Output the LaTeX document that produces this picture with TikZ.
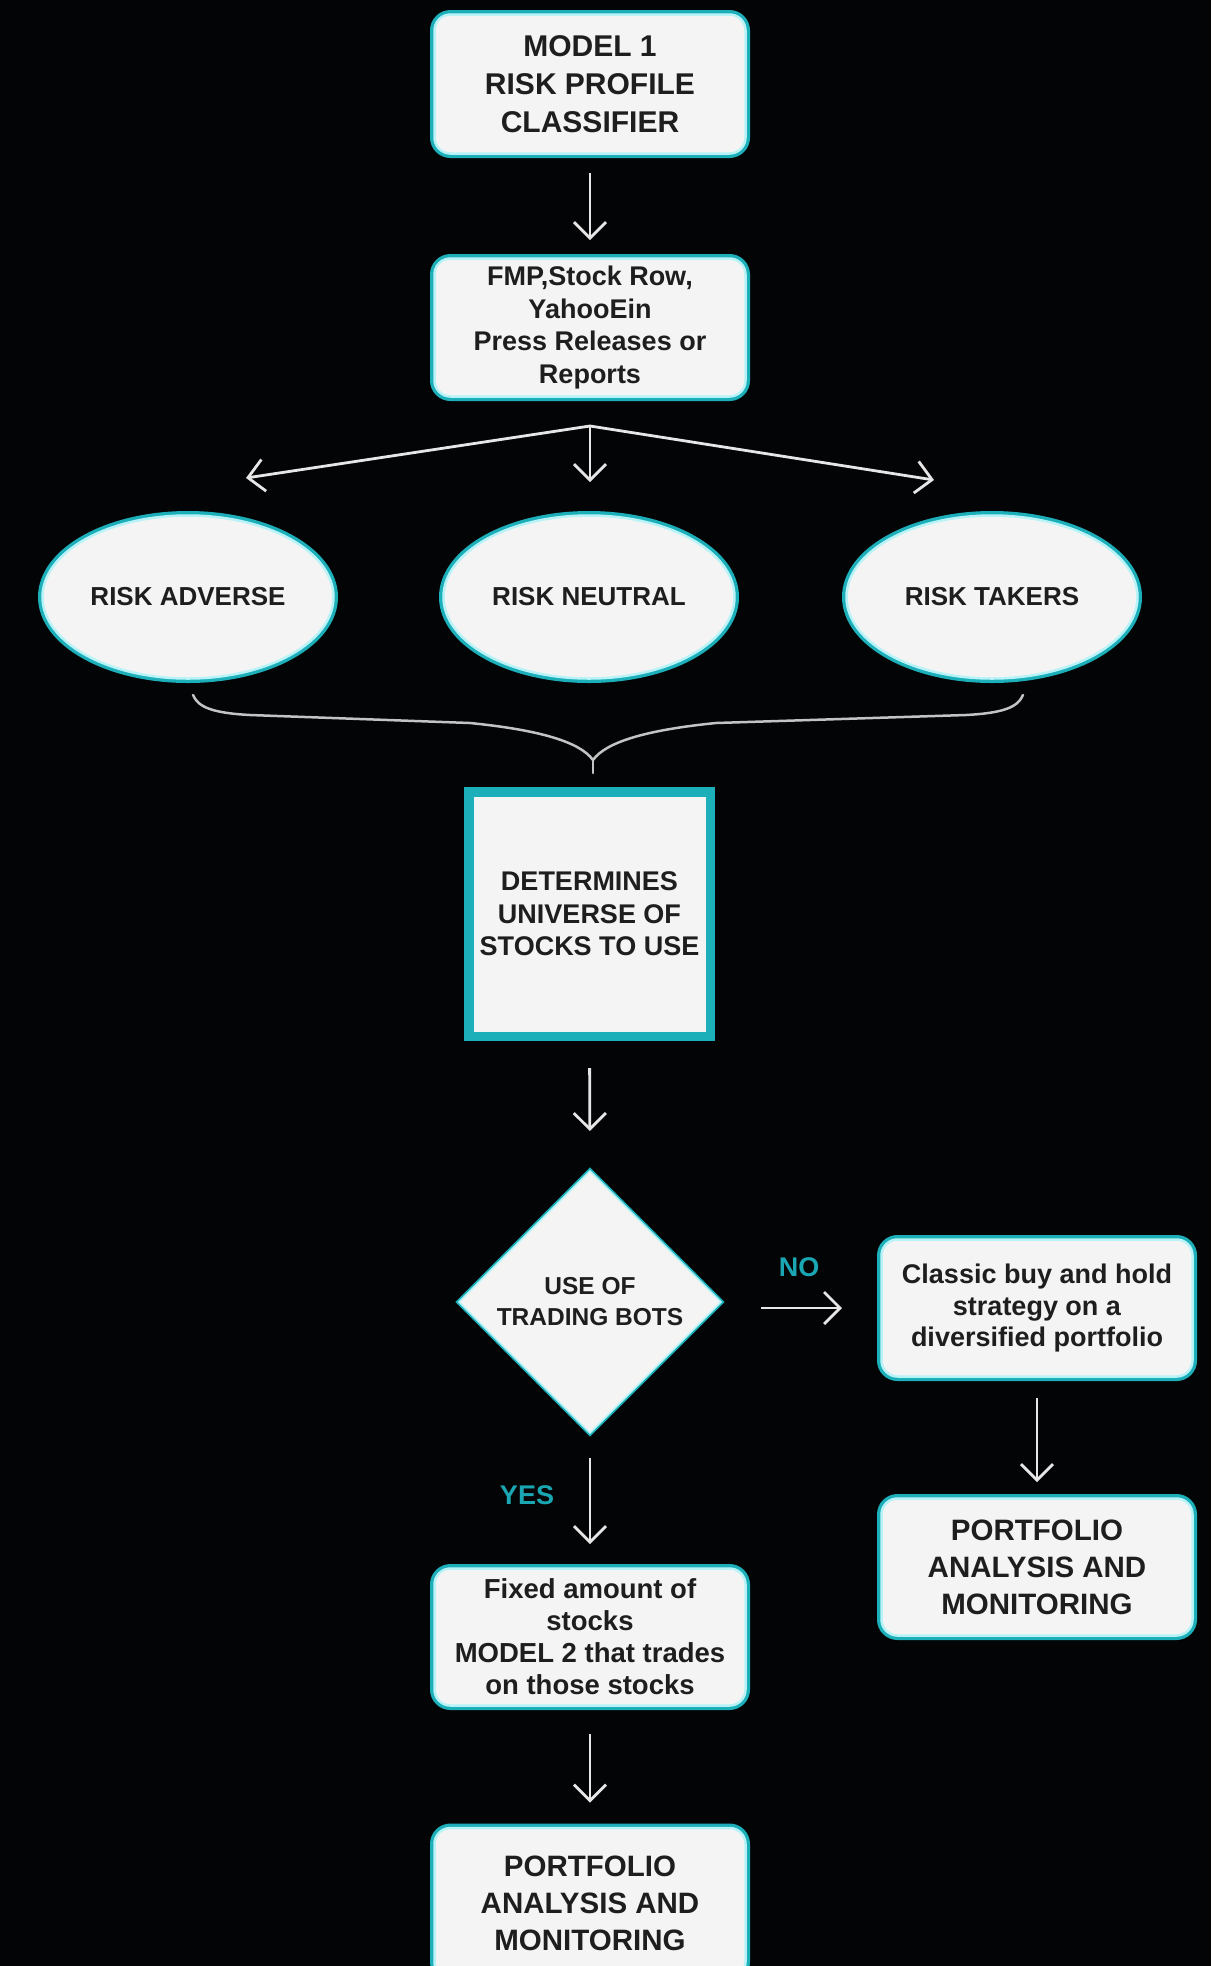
\documentclass[tikz,border=0pt]{standalone}
\usepackage{fontspec}
\setmainfont{Liberation Sans}
\usetikzlibrary{arrows.meta,shapes.geometric}
\definecolor{tealA}{HTML}{1CAFBA}
\definecolor{tealL}{HTML}{B8F3F7}
\definecolor{boxfill}{HTML}{F4F4F4}
\definecolor{ink}{HTML}{1E1E1E}
\definecolor{arrc}{HTML}{E6E6E6}
\definecolor{bgc}{HTML}{030405}
\definecolor{lblc}{HTML}{1AA7B3}
\newcommand\fsz[2]{\fontsize{#1}{#2}\selectfont\bfseries}
\tikzset{
  every node/.style={outer sep=0pt, inner sep=0pt, text=ink, align=center},
  rbox/.style={rectangle, rounded corners=16pt, minimum width=311pt, minimum height=137pt,
    fill=boxfill, draw=tealL, line width=2.5pt, preaction={draw=tealA, line width=9pt}},
  ell/.style={ellipse, minimum width=291pt, minimum height=163pt, fill=boxfill,
    draw=tealL, line width=2.5pt, preaction={draw=tealA, line width=9pt}, font=\fsz{26pt}{31pt}},
  sqbox/.style={rectangle, minimum width=241.5pt, minimum height=244.5pt, fill=boxfill,
    draw=tealA, line width=9.5pt},
  dbox/.style={diamond, minimum width=262pt, minimum height=262pt, fill=boxfill,
    draw=tealL, line width=1.5pt, preaction={draw=tealA, line width=5pt}},
  arrow/.style={draw=arrc, line width=2.8pt, -{Straight Barb[length=16pt,width=32pt,line width=2.8pt]}},
  bracel/.style={draw=arrc!85!black, line width=2.5pt, line cap=round},
  lbl/.style={text=lblc, font=\fsz{27pt}{30pt}},
}
\begin{document}
\begin{tikzpicture}[x=1pt,y=-1pt]
\fill[bgc] (0,0) rectangle (1211,1966);
\useasboundingbox (0,0) rectangle (1211,1966);
\clip (0,0) rectangle (1211,1966);

% nodes
\node[rbox, minimum height=139pt, font=\fsz{30pt}{38pt}] (m1) at (590,84) {MODEL 1\\RISK PROFILE\\CLASSIFIER};
\node[rbox, minimum height=138pt, font=\fsz{27pt}{32.6pt}] (src) at (590,327.5) {FMP,Stock Row,\\YahooEin\\Press Releases or\\Reports};
\node[ell] (ra) at (188,597) {RISK ADVERSE};
\node[ell] (rn) at (589,597) {RISK NEUTRAL};
\node[ell] (rt) at (992,597) {RISK TAKERS};
\node[sqbox, font=\fsz{27pt}{32.6pt}] (det) at (589.5,914) {DETERMINES\\UNIVERSE OF\\STOCKS TO USE};
\node[dbox, font=\fsz{24.5pt}{31pt}] (dia) at (590,1302) {USE OF\\TRADING BOTS};
\node[rbox, font=\fsz{27pt}{32pt}] (cl) at (1037,1308) {Classic buy and hold\\strategy on a\\diversified portfolio};
\node[rbox, font=\fsz{29.5pt}{37pt}] (pr) at (1037,1567) {PORTFOLIO\\ANALYSIS AND\\MONITORING};
\node[rbox, font=\fsz{27.5pt}{32pt}] (fx) at (590,1637) {Fixed amount of\\stocks\\MODEL 2 that trades\\on those stocks};
\node[rbox, minimum height=150pt, font=\fsz{29.5pt}{37pt}] (pl) at (590,1903) {PORTFOLIO\\ANALYSIS AND\\MONITORING};

\node[lbl] (no) at (799,1267) {NO};
\node[lbl] (yes) at (527,1495) {YES};

% connectors
\draw[arrow, shorten <=19.5pt, shorten >=18.5pt] (m1.south) -- (src.north);
\coordinate (fan) at ([yshift=-29.5pt]src.south);
\coordinate (tl) at (246,478);
\coordinate (tm) at (590,482);
\coordinate (tr) at (934,480);
\draw[arrow] (fan) -- (tl);
\draw[arrow] (fan) -- (tm);
\draw[arrow] (fan) -- (tr);

% brace
\coordinate (bl) at (193,695);
\coordinate (br) at (1023,695);
\coordinate (bc) at (593,760);
\coordinate (bt) at (593,773);
\draw[bracel] (bl) .. controls (198,707) and (212,713) .. (250,715) -- (470,723) .. controls (540,730) and (580,742) .. (bc);
\draw[bracel] (br) .. controls (1018,707) and (1004,713) .. (966,715) -- (716,723) .. controls (646,730) and (606,742) .. (bc);
\draw[bracel] (bc) -- (bt);

\draw[arrow, shorten <=31.75pt, shorten >=40pt] (det.south) -- (dia.north);
\draw[arrow, shorten <=40pt, shorten >=39.5pt] (dia.east |- cl.west) -- (cl.west);
\draw[arrow, shorten <=21.5pt, shorten >=16.5pt] (cl.south) -- (pr.north);
\draw[arrow, shorten <=25pt, shorten >=24.5pt] (dia.south) -- (fx.north);
\draw[arrow, shorten <=28.5pt, shorten >=25.5pt] (fx.south) -- (pl.north);
\end{tikzpicture}
\end{document}
